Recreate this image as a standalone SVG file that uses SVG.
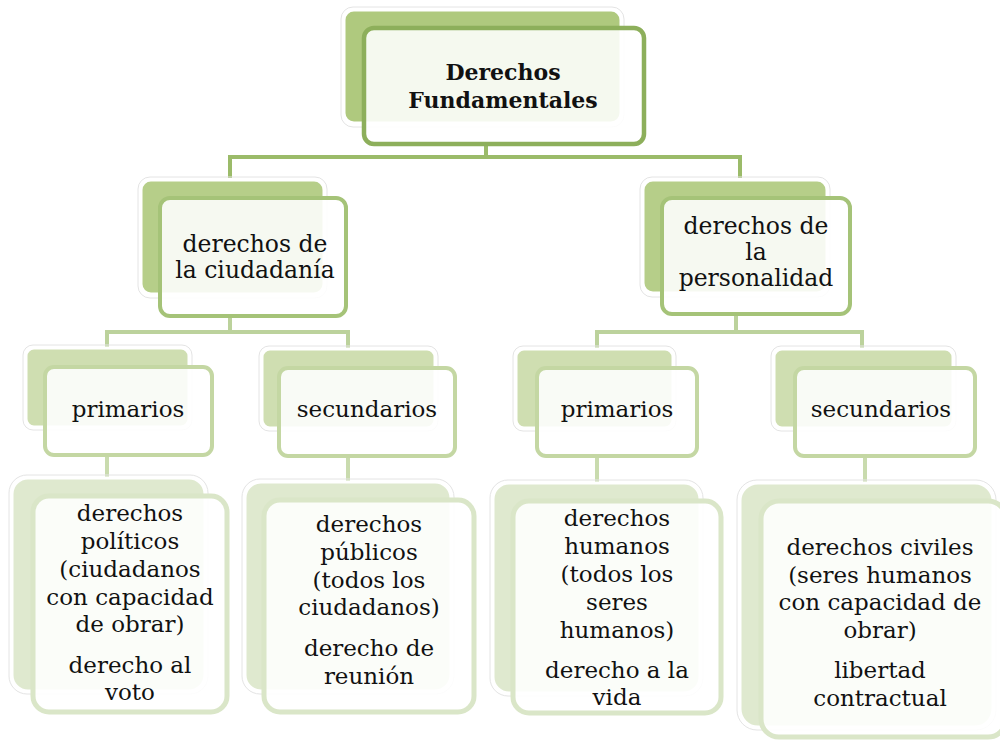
<svg xmlns="http://www.w3.org/2000/svg" width="1000" height="741" viewBox="0 0 1000 741">
<style>
.bk{stroke:#ffffff;stroke-width:3}
.edge{fill:none;stroke:#e4e4e4;stroke-width:1}
.fr{fill:#ffffff;fill-opacity:0.88;stroke-width:4}
.l1b{fill:#afc97e}.l1f{stroke:#8daf5b;stroke-width:4.5}
.l2b{fill:#b6ce89}.l2f{stroke:#a5c378}
.l3b{fill:#cfdeb1}.l3f{stroke:#c4d7a3}
.l4b{fill:#dfe9cf}.l4f{stroke:#dae6c8;stroke-width:5}
.t{font-size:23px;fill:#111;text-anchor:middle}
.b{font-weight:bold;font-size:22px}
.m{font-size:23.5px}
.c1{fill:none;stroke:#9bbb69;stroke-width:4}
.c2{fill:none;stroke:#bcd29c;stroke-width:4}
.c3{fill:none;stroke:#c9dbae;stroke-width:4}
</style>
<rect width="1000" height="741" fill="#ffffff"/>
<g id="connectors">
<path class="c1" d="M486,143 V157 M230,178 V157 H740 V178"/>
<path class="c2" d="M230,317 V332 M107,350 V332 H348 V352 M736,315 V332 M597,352 V332 H862 V352"/>
<path class="c3" d="M107,455 V480 M348,457 V483 M597,457 V483 M865,457 V483"/>
</g>
<g font-family="'DejaVu Serif', serif">
<g id="n-top">
<rect class="edge" x="341" y="7" width="283" height="120" rx="12"/>
<rect class="bk l1b" x="344" y="10" width="277" height="113" rx="10"/>
<rect class="fr l1f" x="364" y="28" width="280" height="116" rx="10"/>
<text class="t b" x="503" y="80">Derechos</text>
<text class="t b" x="503" y="108">Fundamentales</text>
</g>
<g id="n-ciudadania">
<rect class="edge" x="138" y="177" width="189" height="121" rx="12"/>
<rect class="bk l2b" x="141" y="180" width="183" height="114" rx="10"/>
<rect class="fr l2f" x="160" y="198" width="186" height="118" rx="10"/>
<text class="t m" x="255" y="252">derechos de</text>
<text class="t m" x="255" y="278">la ciudadanía</text>
</g>
<g id="n-personalidad">
<rect class="edge" x="640" y="177" width="190" height="120" rx="12"/>
<rect class="bk l2b" x="643" y="180" width="184" height="113" rx="10"/>
<rect class="fr l2f" x="662" y="198" width="188" height="116" rx="10"/>
<text class="t m" x="756" y="234">derechos de</text>
<text class="t m" x="756" y="260">la</text>
<text class="t m" x="756" y="286">personalidad</text>
</g>
<g id="n-primarios-1">
<rect class="edge" x="23" y="345" width="169" height="85" rx="10"/>
<rect class="bk l3b" x="26" y="348" width="163" height="79" rx="8"/>
<rect class="fr l3f" x="45" y="367" width="167" height="88" rx="9"/>
<text class="t" x="128" y="417">primarios</text>
</g>
<g id="n-secundarios-1">
<rect class="edge" x="259" y="346" width="179" height="85" rx="10"/>
<rect class="bk l3b" x="262" y="349" width="173" height="79" rx="8"/>
<rect class="fr l3f" x="279" y="368" width="176" height="88" rx="9"/>
<text class="t" x="367" y="417">secundarios</text>
</g>
<g id="n-primarios-2">
<rect class="edge" x="513" y="346" width="163" height="85" rx="10"/>
<rect class="bk l3b" x="516" y="349" width="157" height="79" rx="8"/>
<rect class="fr l3f" x="537" y="368" width="160" height="88" rx="9"/>
<text class="t" x="617" y="417">primarios</text>
</g>
<g id="n-secundarios-2">
<rect class="edge" x="771" y="346" width="185" height="85" rx="10"/>
<rect class="bk l3b" x="774" y="349" width="179" height="79" rx="8"/>
<rect class="fr l3f" x="795" y="368" width="180" height="88" rx="9"/>
<text class="t" x="881" y="417">secundarios</text>
</g>
<g id="n-politicos">
<rect class="edge" x="9" y="475" width="199" height="219" rx="18"/>
<rect class="bk l4b" x="12" y="478" width="193" height="213" rx="16"/>
<rect class="fr l4f" x="33" y="496" width="194" height="216" rx="16"/>
<text class="t" x="130" y="521">derechos</text>
<text class="t" x="130" y="549">políticos</text>
<text class="t" x="130" y="577">(ciudadanos</text>
<text class="t" x="130" y="605">con capacidad</text>
<text class="t" x="130" y="632">de obrar)</text>
<text class="t" x="130" y="673">derecho al</text>
<text class="t" x="130" y="700">voto</text>
</g>
<g id="n-publicos">
<rect class="edge" x="242" y="479" width="212" height="215" rx="18"/>
<rect class="bk l4b" x="245" y="482" width="206" height="209" rx="16"/>
<rect class="fr l4f" x="264" y="500" width="210" height="212" rx="16"/>
<text class="t" x="369" y="532">derechos</text>
<text class="t" x="369" y="560">públicos</text>
<text class="t" x="369" y="588">(todos los</text>
<text class="t" x="369" y="615">ciudadanos)</text>
<text class="t" x="369" y="656">derecho de</text>
<text class="t" x="369" y="684">reunión</text>
</g>
<g id="n-humanos">
<rect class="edge" x="490" y="480" width="213" height="216" rx="18"/>
<rect class="bk l4b" x="493" y="483" width="207" height="210" rx="16"/>
<rect class="fr l4f" x="513" y="501" width="208" height="212" rx="16"/>
<text class="t" x="617" y="526">derechos</text>
<text class="t" x="617" y="554">humanos</text>
<text class="t" x="617" y="582">(todos los</text>
<text class="t" x="617" y="610">seres</text>
<text class="t" x="617" y="638">humanos)</text>
<text class="t" x="617" y="678">derecho a la</text>
<text class="t" x="617" y="705">vida</text>
</g>
<g id="n-civiles">
<rect class="edge" x="737" y="480" width="259" height="250" rx="20"/>
<rect class="bk l4b" x="740" y="483" width="253" height="244" rx="18"/>
<rect class="fr l4f" x="761" y="501" width="245" height="236" rx="18"/>
<text class="t" x="880" y="555">derechos civiles</text>
<text class="t" x="880" y="583">(seres humanos</text>
<text class="t" x="880" y="610">con capacidad de</text>
<text class="t" x="880" y="638">obrar)</text>
<text class="t" x="880" y="678">libertad</text>
<text class="t" x="880" y="706">contractual</text>
</g>
</g>
</svg>
